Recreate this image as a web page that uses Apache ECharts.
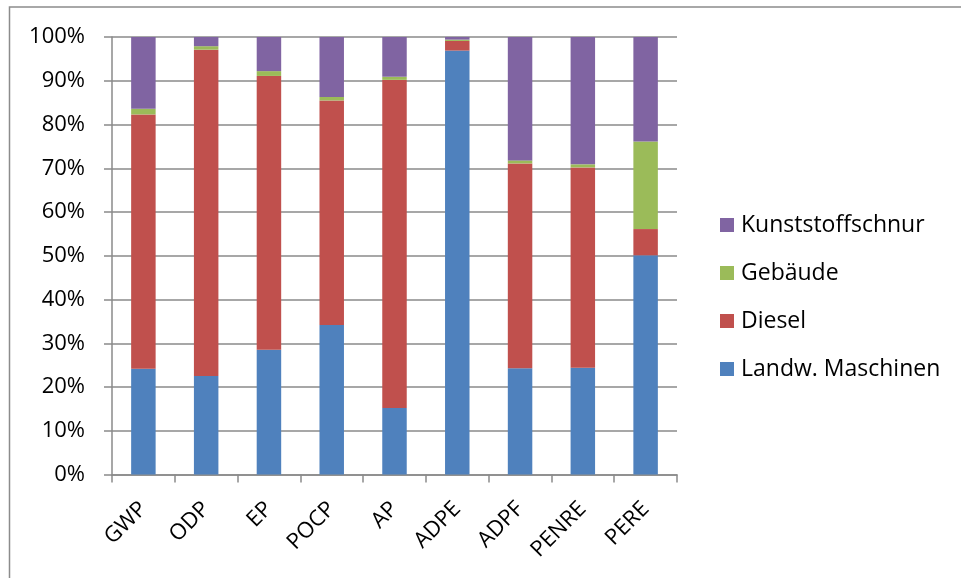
<!DOCTYPE html>
<html><head><meta charset="utf-8">
<script src="https://cdn.jsdelivr.net/npm/echarts@6/dist/echarts.min.js"></script>
<style>html,body{margin:0;padding:0;background:#fff}#c{width:961px;height:578px}</style>
</head><body><div id="c"></div>
<script>
const categories = ['GWP','ODP','EP','POCP','AP','ADPE','ADPF','PENRE','PERE'];
const landwMaschinen = [24.2, 22.5, 28.5, 34.2, 15.2, 96.9, 24.3, 24.4, 50.1];
const diesel = [58.1, 74.6, 62.6, 51.3, 75.0, 2.2, 46.8, 45.8, 6.0];
const gebaeude = [1.3, 0.8, 1.1, 0.8, 0.7, 0.3, 0.7, 0.7, 20.0];
const kunststoffschnur = [16.4, 2.1, 7.8, 13.7, 9.1, 0.6, 28.2, 29.1, 23.9];
const seriesNames = ['Landw. Maschinen','Diesel','Gebäude','Kunststoffschnur'];
const colors = ['#4F81BD','#C0504D','#9BBB59','#8064A2'];
const yTicks = [0,10,20,30,40,50,60,70,80,90,100];

const font = '"Open Sans", sans-serif';
const gridColor = '#8a8a8a';
const chart = echarts.init(document.getElementById('c'));
const data = [landwMaschinen, diesel, gebaeude, kunststoffschnur];
chart.setOption({
  animation: false,
  color: colors,
  graphic: [{type:'rect', shape:{x:9.5, y:7, width:1200, height:1200}, style:{fill:'none', stroke:'#8c8c8c', lineWidth:1.5}}],
  grid: {left:112, right:284, top:37, bottom:103.5},
  legend: {
    orient:'vertical', left:720, top:213, padding:0,
    data: seriesNames.slice().reverse(),
    icon:'rect', itemWidth:14, itemHeight:14, itemGap:24,
    textStyle:{fontFamily:font, fontSize:23, color:'#000', lineHeight:24, padding:[0,0,0,2]}
  },
  xAxis: {
    type:'category', data:categories,
    axisLine:{lineStyle:{color:gridColor, width:1.5}},
    axisTick:{show:true, length:8, lineStyle:{color:gridColor, width:1.5}},
    axisLabel:{rotate:45, fontFamily:font, fontSize:22, color:'#000', margin:31, interval:0}
  },
  yAxis: {
    type:'value', min:0, max:100, interval:10,
    axisLine:{show:true, lineStyle:{color:gridColor, width:1.5}},
    axisTick:{show:true, length:8, lineStyle:{color:gridColor, width:1.5}},
    splitLine:{lineStyle:{color:gridColor, width:1.5}},
    axisLabel:{fontFamily:font, fontSize:22, color:'#000', margin:27,
      formatter: v => yTicks.includes(v) ? v + '%' : ''}
  },
  series: seriesNames.map((n,i)=>({
    name:n, type:'bar', stack:'total', data:data[i], barWidth:'39%',
    itemStyle:{color:colors[i]}
  }))
});
</script></body></html>
